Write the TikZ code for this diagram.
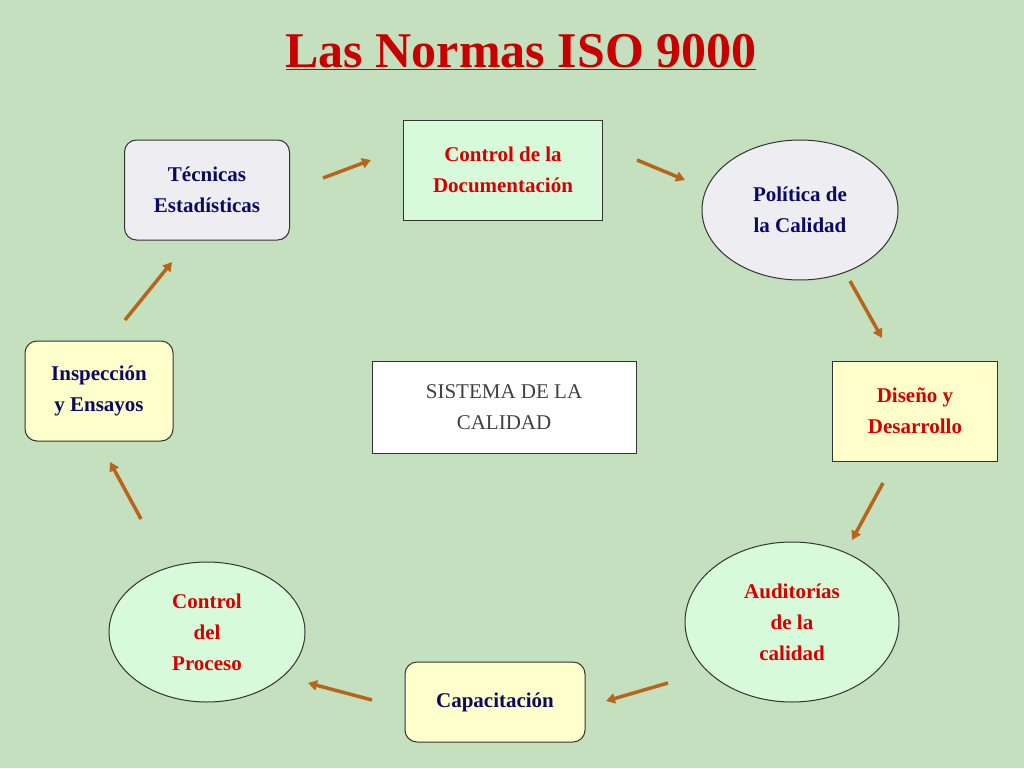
\documentclass[tikz,border=0pt]{standalone}
\usepackage{fontspec}
\setmainfont{Liberation Serif}
\usetikzlibrary{shapes.geometric,arrows.meta}
\definecolor{bg}{RGB}{196,224,190}
\definecolor{titred}{RGB}{200,0,0}
\definecolor{txred}{RGB}{215,0,0}
\definecolor{navy}{RGB}{10,10,100}
\definecolor{arr}{RGB}{184,101,27}
\definecolor{lgreen}{RGB}{215,250,218}
\definecolor{lyel}{RGB}{255,255,204}
\definecolor{lgray}{RGB}{238,238,242}
\tikzset{
 box/.style={draw=black!80,line width=1pt,align=center,font=\fontsize{21}{31}\selectfont\bfseries,inner sep=0pt},
 rbox/.style={box,rounded corners=12pt},
 ell/.style={box,ellipse},
 flow/.style={draw=arr,line width=3.5pt,-{Triangle[length=9pt,width=10pt]}}
}
\begin{document}
\begin{tikzpicture}[x=1pt,y=-1pt]
\fill[bg] (0,0) rectangle (1024,768);
\useasboundingbox (0,0) rectangle (1024,768);
\node[font=\fontsize{50}{54}\selectfont\bfseries,text=titred] (title) at (521,52) {\underline{Las Normas ISO 9000}};
\node[rbox,fill=lgray,text=navy,minimum width=165pt,minimum height=100pt] (tec) at (207,190) {Técnicas\\Estadísticas};
\node[box,fill=lgreen,text=txred,minimum width=199pt,minimum height=100pt] (doc) at (503,170) {Control de la\\Documentación};
\node[ell,fill=lgray,text=navy,minimum width=196pt,minimum height=140pt] (pol) at (800,210) {Política de\\la Calidad};
\node[box,fill=lyel,text=txred,minimum width=165pt,minimum height=100pt] (dis) at (915,411) {Diseño y\\Desarrollo};
\node[ell,fill=lgreen,text=txred,minimum width=214pt,minimum height=160pt] (aud) at (792,622) {Auditorías\\de la\\calidad};
\node[rbox,fill=lyel,text=navy,minimum width=180pt,minimum height=80pt] (cap) at (495,702) {Capacitación};
\node[ell,fill=lgreen,text=txred,minimum width=196pt,minimum height=140pt] (pro) at (207,632) {Control\\del\\Proceso};
\node[rbox,fill=lyel,text=navy,minimum width=148pt,minimum height=100pt] (ins) at (99,391) {Inspección\\y Ensayos};
\node[box,fill=white,text=black!75,font=\fontsize{21}{31}\selectfont,minimum width=264pt,minimum height=92pt] (sis) at (504,407) {SISTEMA DE LA\\CALIDAD};
\coordinate (a1) at (323,178); \coordinate (b1) at (371,160);
\coordinate (a2) at (637,160); \coordinate (b2) at (685,180);
\coordinate (a3) at (850,281); \coordinate (b3) at (882,338);
\coordinate (a4) at (883,483); \coordinate (b4) at (852,540);
\coordinate (a5) at (668,683); \coordinate (b5) at (606,701);
\coordinate (a6) at (372,700); \coordinate (b6) at (308,683);
\coordinate (a7) at (141,519); \coordinate (b7) at (110,462);
\coordinate (a8) at (125,320); \coordinate (b8) at (172,262);
\foreach \i in {1,...,8} \draw[flow] (a\i) -- (b\i);
\end{tikzpicture}
\end{document}
